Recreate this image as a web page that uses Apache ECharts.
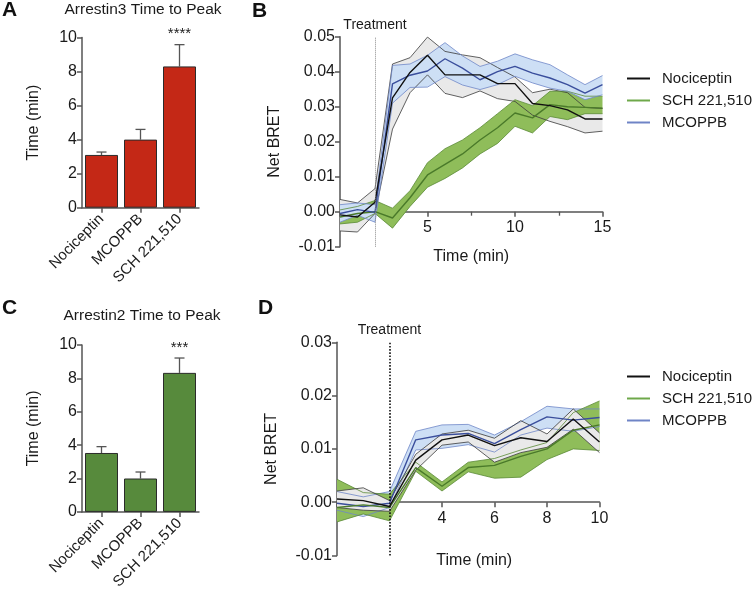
<!DOCTYPE html>
<html><head><meta charset="utf-8">
<script src="https://cdn.jsdelivr.net/npm/echarts@6/dist/echarts.min.js"></script>
<style>html,body{margin:0;padding:0;background:#fff}#c{width:754px;height:592px}</style>
</head><body><div id="c"></div>
<script>
// ---------- DATA ----------
const categories = ['Nociceptin', 'MCOPPB', 'SCH 221,510'];
const arr3Values = [3.1, 4.0, 8.3];
const arr3Errors = [0.17, 0.6, 1.28];
const arr3Sig = ['', '', '****'];
const arr2Values = [3.53, 2.0, 8.33];
const arr2Errors = [0.38, 0.39, 0.89];
const arr2Sig = ['', '', '***'];

const seriesNames = ['Nociceptin', 'SCH 221,510', 'MCOPPB'];
const treatmentTime = 2;

const timeB = [0, 1, 2, 3, 4, 5, 6, 7, 8, 9, 10, 11, 12, 13, 14, 15];
const nocMeanB = [-0.0009, -0.0015, 0.0027, 0.0325, 0.0398, 0.0447, 0.0391, 0.0391, 0.0391, 0.0366, 0.0366, 0.0309, 0.0303, 0.0291, 0.0265, 0.0265];
const nocHiB   = [0.0035, 0.0025, 0.0066, 0.0422, 0.0440, 0.0499, 0.0458, 0.0448, 0.0440, 0.0412, 0.0385, 0.0340, 0.0350, 0.0340, 0.0298, 0.0295];
const nocLoB   = [-0.0055, -0.0058, -0.0005, 0.0236, 0.0340, 0.0391, 0.0338, 0.0326, 0.0345, 0.0323, 0.0315, 0.0276, 0.0258, 0.0243, 0.0225, 0.0230];
const mcoMeanB = [-0.0005, 0.0006, -0.0002, 0.0365, 0.0390, 0.0402, 0.0437, 0.0410, 0.0377, 0.0400, 0.0415, 0.0396, 0.0382, 0.0363, 0.0339, 0.0363];
const mcoHiB   = [0.0020, 0.0025, 0.0020, 0.0418, 0.0422, 0.0447, 0.0483, 0.0445, 0.0415, 0.0430, 0.0451, 0.0434, 0.0420, 0.0391, 0.0363, 0.0389];
const mcoLoB   = [-0.0030, -0.0010, -0.0030, 0.0310, 0.0355, 0.0356, 0.0386, 0.0362, 0.0349, 0.0363, 0.0387, 0.0368, 0.0353, 0.0344, 0.0320, 0.0334];
const schMeanB = [-0.0015, -0.0005, 0.0000, -0.0018, 0.0040, 0.0105, 0.0135, 0.0165, 0.0205, 0.0240, 0.0282, 0.0268, 0.0306, 0.0300, 0.0298, 0.0296];
const schHiB   = [0.0005, 0.0015, 0.0032, 0.0010, 0.0060, 0.0140, 0.0180, 0.0205, 0.0240, 0.0280, 0.0320, 0.0303, 0.0344, 0.0344, 0.0330, 0.0330];
const schLoB   = [-0.0035, -0.0030, -0.0005, -0.0047, 0.0015, 0.0070, 0.0095, 0.0125, 0.0165, 0.0195, 0.0244, 0.0225, 0.0272, 0.0263, 0.0280, 0.0280];

const timeD = [0, 1, 2, 3, 4, 5, 6, 7, 8, 9, 10];
const nocMeanD = [0.0006, 0.0003, -0.0008, 0.0079, 0.0117, 0.0126, 0.0106, 0.0121, 0.0114, 0.0156, 0.0113];
const nocHiD   = [0.0021, 0.0027, 0.0003, 0.0090, 0.0128, 0.0135, 0.0120, 0.0153, 0.0128, 0.0175, 0.0130];
const nocLoD   = [-0.0010, -0.0015, -0.0017, 0.0060, 0.0107, 0.0113, 0.0075, 0.0093, 0.0103, 0.0137, 0.0093];
const mcoMeanD = [-0.0002, -0.0008, -0.0002, 0.0117, 0.0126, 0.0129, 0.0110, 0.0136, 0.0160, 0.0154, 0.0159];
const mcoHiD   = [0.0020, 0.0010, 0.0020, 0.0133, 0.0145, 0.0146, 0.0126, 0.0151, 0.0180, 0.0175, 0.0175];
const mcoLoD   = [-0.0015, -0.0027, -0.0010, 0.0098, 0.0101, 0.0108, 0.0094, 0.0126, 0.0139, 0.0133, 0.0142];
const schMeanD = [-0.0010, -0.0005, -0.0010, 0.0065, 0.0030, 0.0065, 0.0069, 0.0086, 0.0100, 0.0135, 0.0145];
const schHiD   = [0.0043, 0.0018, 0.0015, 0.0075, 0.0038, 0.0075, 0.0082, 0.0098, 0.0112, 0.0168, 0.0190];
const schLoD   = [-0.0037, -0.0022, -0.0035, 0.0058, 0.0021, 0.0057, 0.0045, 0.0047, 0.0080, 0.0100, 0.0097];

// ---------- STYLE ----------
const FONT = "'Liberation Sans', Arial, sans-serif";
const AX = '#555';
const TXT = '#1a1a1a';
const C = {
  noc: {fill: '#e9e9e9', edge: '#3a3a3a', mean: '#111111', legend: '#111111'},
  sch: {fill: '#8fbd5a', edge: '#5a8a36', mean: '#4a7a2a', legend: '#6ea84a'},
  mco: {fill: '#cddff5', edge: '#6f86c8', mean: '#3a4e9c', legend: '#6f84c6'}
};

function pairs(t, arr) { return t.map((x, i) => [x, arr[i]]); }

function bandFill(gi, t, lo, hi, col) {
  return {type: 'custom', xAxisIndex: gi, yAxisIndex: gi, silent: true, clip: true,
    data: t.map((x, i) => [x, lo[i], hi[i]]), encode: {x: 0, y: [1, 2]},
    renderItem: function (params, api) {
      if (params.dataIndex !== 0) return null;
      const pts = [];
      for (let i = 0; i < t.length; i++) pts.push(api.coord([t[i], hi[i]]));
      for (let i = t.length - 1; i >= 0; i--) pts.push(api.coord([t[i], lo[i]]));
      return {type: 'polygon', shape: {points: pts}, style: {fill: col.fill, stroke: null}};
    }};
}
function edgeLines(gi, t, lo, hi, col) {
  const base = {type: 'line', xAxisIndex: gi, yAxisIndex: gi, symbol: 'none', silent: true,
    lineStyle: {width: 0.8, color: col.edge}};
  return [Object.assign({}, base, {data: pairs(t, lo)}), Object.assign({}, base, {data: pairs(t, hi)})];
}
function meanLine(gi, t, m, col, name) {
  return {type: 'line', name: name, xAxisIndex: gi, yAxisIndex: gi, symbol: 'none', silent: true,
    itemStyle: {color: col.legend}, lineStyle: {width: 1.4, color: col.mean}, data: pairs(t, m)};
}
function barSeries(gi, vals, fill) {
  return {type: 'bar', xAxisIndex: gi, yAxisIndex: gi, data: vals, barWidth: 33,
    itemStyle: {color: fill, borderColor: '#2b2b2b', borderWidth: 1}, silent: true, z: 2};
}
function errSeries(gi, vals, errs, sig) {
  return {type: 'custom', xAxisIndex: gi, yAxisIndex: gi, silent: true, z: 1,
    data: vals.map((v, i) => [i, v, v + errs[i]]),
    encode: {x: 0, y: [1, 2]},
    renderItem: function (params, api) {
      const i = api.value(0);
      const p0 = api.coord([i, api.value(1)]);
      const p1 = api.coord([i, api.value(2)]);
      const st = {stroke: '#555', lineWidth: 1.3};
      const ch = [
        {type: 'line', shape: {x1: p0[0], y1: p0[1], x2: p1[0], y2: p1[1]}, style: st},
        {type: 'line', shape: {x1: p1[0] - 5, y1: p1[1], x2: p1[0] + 5, y2: p1[1]}, style: st}
      ];
      const s = sig[params.dataIndex];
      if (s) ch.push({type: 'text', x: p1[0], y: p1[1] - 3,
        style: {text: s, fill: TXT, font: '15px ' + FONT, align: 'center', verticalAlign: 'bottom'}});
      return {type: 'group', children: ch};
    }};
}

const axisLine = {show: true, onZero: false, lineStyle: {color: AX, width: 1.5}};
const axisTick = {show: true, length: 5, lineStyle: {color: AX, width: 1.5}};
function barX(gi) {
  return {gridIndex: gi, type: 'category', data: categories, axisLine: axisLine,
    axisTick: {show: true, length: 5, alignWithLabel: true, lineStyle: {color: AX, width: 1.5}},
    axisLabel: {rotate: 45, fontSize: 15, color: TXT, fontFamily: FONT, margin: 9, interval: 0}};
}
function barY(gi) {
  return {gridIndex: gi, type: 'value', min: 0, max: 10, interval: 2, splitLine: {show: false},
    axisLine: axisLine, axisTick: axisTick,
    axisLabel: {fontSize: 16, color: TXT, fontFamily: FONT, margin: 5},
    name: 'Time (min)', nameLocation: 'middle', nameGap: 40, nameMoveOverlap: false,
    nameTextStyle: {fontSize: 16, color: TXT, fontFamily: FONT}};
}
function lineY(gi, min, max) {
  return {gridIndex: gi, type: 'value', min: min, max: max, interval: 0.01, splitLine: {show: false},
    axisLine: axisLine, axisTick: axisTick,
    axisLabel: {fontSize: 16, color: TXT, fontFamily: FONT, margin: 5, formatter: v => v.toFixed(2)},
    name: 'Net BRET', nameLocation: 'middle', nameGap: 57, nameMoveOverlap: false,
    nameTextStyle: {fontSize: 16, color: TXT, fontFamily: FONT}};
}
// x axis placed at the y = 0 level by an offset from the grid bottom
function lineX(gi, max, interval, hide, offset, nameGap, minor, namePad) {
  return {gridIndex: gi, type: 'value', min: 0, max: max, interval: interval, splitLine: {show: false},
    position: 'bottom', offset: offset,
    axisLine: axisLine, axisTick: axisTick,
    minorTick: {show: minor, splitNumber: 2, length: 4, lineStyle: {color: AX, width: 1.3}},
    axisLabel: {fontSize: 16, color: TXT, fontFamily: FONT, margin: 8,
      formatter: v => (hide.indexOf(v) >= 0 ? '' : String(v))},
    name: 'Time (min)', nameLocation: 'middle', nameGap: nameGap, nameMoveOverlap: false,
    nameTextStyle: {fontSize: 16, color: TXT, fontFamily: FONT, padding: namePad}};
}
function treatmentMark(color, width) {
  return {symbol: 'none', silent: true, animation: false,
    lineStyle: {type: 'dotted', color: color, width: width},
    label: {show: true, position: 'end', formatter: 'Treatment', fontSize: 14, color: TXT, fontFamily: FONT, distance: 5},
    data: [{xAxis: treatmentTime}]};
}
function legend(top) {
  return {orient: 'vertical', left: 622, top: top, itemWidth: 23, itemHeight: 2, icon: 'rect', itemGap: 7,
    selectedMode: false,
    textStyle: {fontSize: 15, color: TXT, fontFamily: FONT, padding: [0, 0, 0, 7]},
    data: seriesNames.map((n, i) => ({name: n, itemStyle: {color: [C.noc, C.sch, C.mco][i].legend}}))};
}

// ---------- SERIES ----------
const series = [];
series.push(barSeries(0, arr3Values, '#c42816'));
series.push(errSeries(0, arr3Values, arr3Errors, arr3Sig));
series.push(barSeries(2, arr2Values, '#578a3c'));
series.push(errSeries(2, arr2Values, arr2Errors, arr2Sig));

// Panel B (grid 1): gray, green, blue fills
const bGray = bandFill(1, timeB, nocLoB, nocHiB, C.noc);
bGray.markLine = treatmentMark('#8a8a8a', 1);
series.push(bGray);
series.push(bandFill(1, timeB, schLoB, schHiB, C.sch));
series.push(bandFill(1, timeB, mcoLoB, mcoHiB, C.mco));
series.push.apply(series, edgeLines(1, timeB, nocLoB, nocHiB, C.noc));
series.push.apply(series, edgeLines(1, timeB, schLoB, schHiB, C.sch));
series.push.apply(series, edgeLines(1, timeB, mcoLoB, mcoHiB, C.mco));
series.push(meanLine(1, timeB, schMeanB, C.sch, seriesNames[1]));
series.push(meanLine(1, timeB, mcoMeanB, C.mco, seriesNames[2]));
series.push(meanLine(1, timeB, nocMeanB, C.noc, seriesNames[0]));

// Panel D (grid 3): blue, green, gray fills
const dBlue = bandFill(3, timeD, mcoLoD, mcoHiD, C.mco);
dBlue.markLine = treatmentMark('#111', 1.6);
series.push(dBlue);
series.push(bandFill(3, timeD, schLoD, schHiD, C.sch));
series.push(bandFill(3, timeD, nocLoD, nocHiD, C.noc));
series.push.apply(series, edgeLines(3, timeD, mcoLoD, mcoHiD, C.mco));
series.push.apply(series, edgeLines(3, timeD, schLoD, schHiD, C.sch));
series.push.apply(series, edgeLines(3, timeD, nocLoD, nocHiD, C.noc));
series.push(meanLine(3, timeD, mcoMeanD, C.mco, seriesNames[2]));
series.push(meanLine(3, timeD, schMeanD, C.sch, seriesNames[1]));
series.push(meanLine(3, timeD, nocMeanD, C.noc, seriesNames[0]));

const chart = echarts.init(document.getElementById('c'), null, {renderer: 'canvas'});
chart.setOption({
  animation: false,
  backgroundColor: '#fff',
  textStyle: {fontFamily: FONT},
  grid: [
    {left: 82, top: 37.5, width: 117, height: 170.2},
    {left: 340, top: 36.7, width: 262.5, height: 210},
    {left: 82, top: 345, width: 117, height: 171.5},
    {left: 337, top: 342.3, width: 262.5, height: 213.2}
  ],
  xAxis: [barX(0), lineX(1, 15, 5, [0], -35, 37, true, [0, 0, 0, 0]),
          barX(2), lineX(3, 10, 2, [0, 2], -53.3, 50, false, [0, 0, 0, 12])],
  yAxis: [barY(0), lineY(1, -0.01, 0.05), barY(2), lineY(3, -0.01, 0.03)],
  legend: [legend(66), legend(364)],
  graphic: [
    {type: 'text', left: 2, top: 0, style: {text: 'A', font: 'bold 21px ' + FONT, fill: '#111'}},
    {type: 'text', left: 252, top: 1, style: {text: 'B', font: 'bold 21px ' + FONT, fill: '#111'}},
    {type: 'text', left: 2, top: 298, style: {text: 'C', font: 'bold 21px ' + FONT, fill: '#111'}},
    {type: 'text', left: 258, top: 298, style: {text: 'D', font: 'bold 21px ' + FONT, fill: '#111'}},
    {type: 'text', x: 143, y: 10, style: {text: 'Arrestin3 Time to Peak', font: '15.5px ' + FONT, fill: TXT, align: 'center', verticalAlign: 'middle'}},
    {type: 'text', x: 142, y: 316, style: {text: 'Arrestin2 Time to Peak', font: '15.5px ' + FONT, fill: TXT, align: 'center', verticalAlign: 'middle'}}
  ],
  series: series
});
</script>
</body></html>
